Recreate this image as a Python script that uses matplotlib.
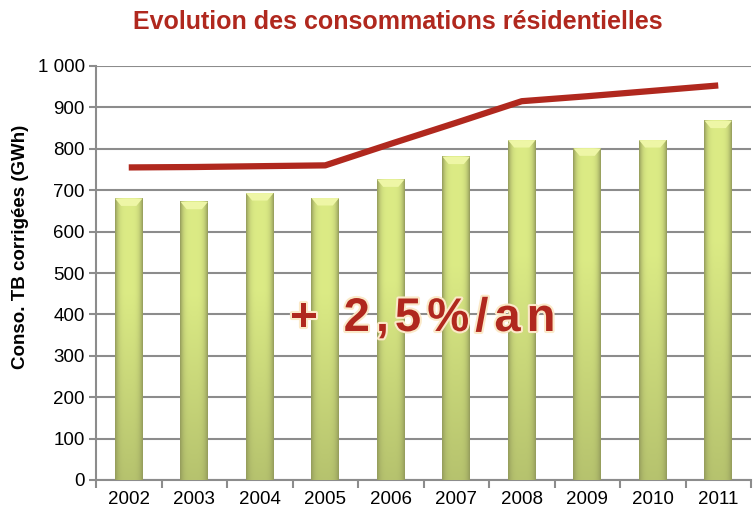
import numpy as np
import matplotlib
matplotlib.use("Agg")
import matplotlib.pyplot as plt
import matplotlib.patheffects as pe
from matplotlib.ticker import FuncFormatter, FixedLocator

years = ["2002", "2003", "2004", "2005", "2006", "2007", "2008", "2009", "2010", "2011"]
conso = [680, 672, 693, 681, 726, 781, 821, 801, 821, 868]
trend = [755, 756, 758, 760, 812, 863, 915, 927, 940, 953]

title = "Evolution des consommations résidentielles"
ylabel = "Conso. TB corrigées (GWh)"
note = "+ 2,5%/an"

red = "#B0281E"
plt.rcParams["font.family"] = ["Liberation Sans", "DejaVu Sans"]

fig = plt.figure(figsize=(7.54, 5.09), dpi=100)
ax = fig.add_axes([96 / 754, 29 / 509, 655 / 754, 414 / 509])

x = np.arange(len(years))
bw = 0.42

# gradient for bars: darker edges, light centre, more olive towards the bottom
prof_x = np.linspace(-1, 1, 60)
light = np.array([0.86, 0.92, 0.52])
dark = np.array([0.58, 0.61, 0.36])
hx = np.clip(np.abs(prof_x) ** 4, 0, 1)[None, :, None]
prof_y = np.linspace(0, 1, 100)[:, None, None]  # 0 bottom -> 1 top
base = light * (0.83 + 0.17 * np.clip(prof_y * 1.5, 0, 1))
img = np.clip(base * (1 - hx) + dark * hx, 0, 1)

ax.bar(x, conso, width=bw, color="#D6E67C", zorder=2, linewidth=0)
for xi, v in zip(x, conso):
    ax.imshow(img, extent=[xi - bw / 2, xi + bw / 2, 0, v], origin="lower",
              aspect="auto", zorder=3, interpolation="bilinear")
    # top bevel
    ax.fill([xi - bw / 2, xi + bw / 2, xi + bw / 2 * 0.55, xi - bw / 2 * 0.55],
            [v, v, v - 18, v - 18], color="#EEF6A6", zorder=4, linewidth=0)

ax.plot(x, trend, color=red, lw=4.5, zorder=5, solid_capstyle="butt")

ax.set_xlim(-0.5, len(years) - 0.5)
ax.set_ylim(0, 1000)
ax.set_yticks(np.arange(0, 1001, 100))
ax.yaxis.set_major_formatter(FuncFormatter(lambda v, p: f"{int(v):,}".replace(",", " ")))
ax.grid(axis="y", color="#8C8C8C", lw=1.5, zorder=0)
ax.set_axisbelow(True)

ax.set_xticks(x)
ax.set_xticklabels(years)
ax.xaxis.set_minor_locator(FixedLocator(np.arange(-0.5, len(years), 1.0)))
ax.tick_params(axis="x", which="major", length=0, pad=8, labelsize=13.5)
ax.tick_params(axis="x", which="minor", length=6, width=1.5, color="#8C8C8C")
ax.tick_params(axis="y", length=5, width=1.5, color="#8C8C8C", labelsize=13.5, pad=3)

for s in ["top", "right"]:
    ax.spines[s].set_visible(False)
for s in ["left", "bottom"]:
    ax.spines[s].set_color("#8C8C8C")
    ax.spines[s].set_linewidth(1.5)

ax.set_ylabel(ylabel, fontsize=13.5, fontweight="bold")
ax.yaxis.set_label_coords(-67 / 655, 0.5 + (480 - 247 - 207) / 414)

fig.text(398 / 754, 1 - 22 / 509, title, ha="center", va="center",
         fontsize=18, fontweight="bold", color=red)

# big annotation with letter spacing
fig.canvas.draw()
r = fig.canvas.get_renderer()
cx = 290
stroke = [pe.withStroke(linewidth=3, foreground="#FBE9C8")]
for ch in note:
    t = fig.text(cx / 754, 1 - 319 / 509, ch, ha="left", va="center",
                 fontsize=34, fontweight="bold", color=red, path_effects=stroke, zorder=10)
    w = t.get_window_extent(renderer=r).width if ch != " " else 14
    cx += w + 6

fig.savefig("out.png", dpi=100)
